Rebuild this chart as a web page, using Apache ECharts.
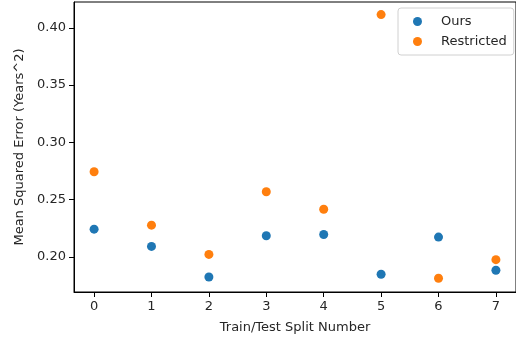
<!DOCTYPE html>
<html>
<head>
<meta charset="utf-8">
<script src="https://cdn.jsdelivr.net/npm/echarts@6/dist/echarts.min.js"></script>
<style>
  html, body { margin: 0; padding: 0; background: #fff; }
</style>
</head>
<body>
<div id="chart" style="width:516px;height:339px;"></div>
<script>
// split numbers on the x axis
const splits = [0, 1, 2, 3, 4, 5, 6, 7];
// mean squared error per split
const oursMse = [0.2243, 0.2093, 0.1826, 0.2186, 0.2197, 0.1850, 0.2174, 0.1885];
const restrictedMse = [0.2744, 0.2278, 0.2023, 0.2570, 0.2417, 0.4115, 0.1815, 0.1977];
// tick labels
const xTicks = [0, 1, 2, 3, 4, 5, 6, 7];
const yTicks = [0.20, 0.25, 0.30, 0.35, 0.40];

const fontFamily = '"DejaVu Sans", sans-serif';
const textColor = '#262626';

const chart = echarts.init(document.getElementById('chart'));

const option = {
  animation: false,
  textStyle: { fontFamily: fontFamily },
  grid: {
    left: 74,
    top: 2,
    right: -5,
    bottom: 46,
    show: true,
    borderColor: '#000',
    borderWidth: 1,
    backgroundColor: 'transparent'
  },
  legend: {
    orient: 'vertical',
    left: 398,
    top: 8,
    padding: [6, 7, 6, 15],
    itemWidth: 9,
    itemHeight: 9,
    itemGap: 5,
    icon: 'circle',
    backgroundColor: 'rgba(255,255,255,0.8)',
    borderColor: '#d0d0d0',
    borderWidth: 1,
    borderRadius: 3,
    textStyle: {
      fontFamily: fontFamily,
      fontSize: 13,
      lineHeight: 15,
      color: textColor,
      padding: [0, 0, 0, 14]
    },
    data: ['Ours', 'Restricted']
  },
  xAxis: {
    type: 'value',
    min: -0.35,
    max: 7.35,
    name: 'Train/Test Split Number',
    nameLocation: 'middle',
    nameGap: 29,
    nameTextStyle: { fontFamily: fontFamily, fontSize: 13, color: textColor },
    axisLine: { onZero: false, lineStyle: { color: '#000', width: 1 } },
    axisTick: {
      show: true,
      length: 5,
      lineStyle: { color: '#000' },
      customValues: xTicks
    },
    axisLabel: {
      fontFamily: fontFamily,
      fontSize: 13,
      color: textColor,
      margin: 8,
      customValues: xTicks,
      formatter: v => String(v)
    },
    splitLine: { show: false }
  },
  yAxis: {
    type: 'value',
    min: 0.1695,
    max: 0.4225,
    name: 'Mean Squared Error (Years^2)',
    nameLocation: 'middle',
    nameGap: 45,
    nameRotate: 90,
    nameTextStyle: { fontFamily: fontFamily, fontSize: 13, color: textColor },
    axisLine: { show: true, onZero: false, lineStyle: { color: '#000', width: 1 } },
    axisTick: {
      show: true,
      length: 5,
      lineStyle: { color: '#000' },
      customValues: yTicks
    },
    axisLabel: {
      fontFamily: fontFamily,
      fontSize: 13,
      color: textColor,
      margin: 8,
      customValues: yTicks,
      formatter: v => v.toFixed(2)
    },
    splitLine: { show: false }
  },
  series: [
    {
      name: 'Ours',
      type: 'scatter',
      symbol: 'circle',
      symbolSize: 9,
      itemStyle: { color: '#1f77b4', opacity: 1 },
      data: splits.map((s, i) => [s, oursMse[i]])
    },
    {
      name: 'Restricted',
      type: 'scatter',
      symbol: 'circle',
      symbolSize: 9,
      itemStyle: { color: '#ff7f0e', opacity: 1 },
      data: splits.map((s, i) => [s, restrictedMse[i]])
    }
  ]
};

chart.setOption(option);
</script>
</body>
</html>
